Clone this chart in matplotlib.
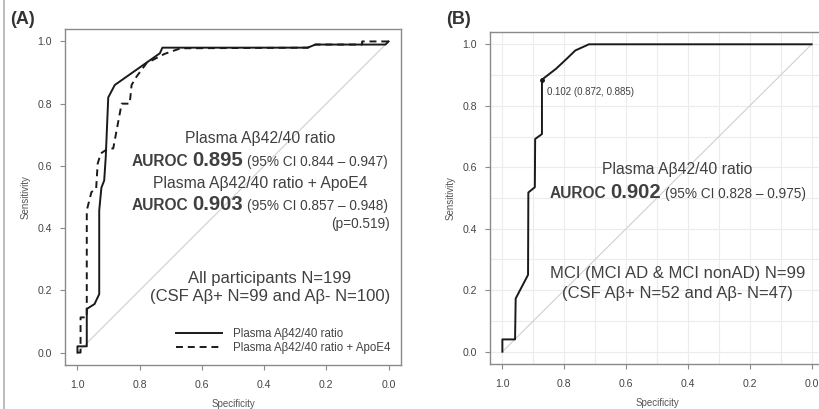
import matplotlib
matplotlib.use("Agg")
import matplotlib.pyplot as plt
import matplotlib.transforms as mtransforms
from matplotlib.lines import Line2D

plt.rcParams['font.family'] = ['Liberation Sans', 'DejaVu Sans']
plt.rcParams['lines.scale_dashes'] = False

# ---------------- data ----------------
specA_solid = [1.0, 1.0, 0.97, 0.97, 0.945, 0.93, 0.93, 0.923, 0.914, 0.909, 0.901, 0.88, 0.735, 0.727, 0.26, 0.235, 0.01, 0.0]
sensA_solid = [0.0, 0.02, 0.02, 0.14, 0.156, 0.188, 0.457, 0.53, 0.553, 0.629, 0.82, 0.86, 0.962, 0.98, 0.98, 0.99, 0.99, 1.0]

specA_dash = [1.0, 0.99, 0.99, 0.97, 0.97, 0.955, 0.94, 0.935, 0.925, 0.91, 0.90, 0.885, 0.858, 0.832, 0.826,
              0.81, 0.778, 0.72, 0.668, 0.26, 0.235, 0.085, 0.085, 0.0]
sensA_dash = [0.0, 0.0, 0.113, 0.113, 0.457, 0.516, 0.525, 0.607, 0.64, 0.65, 0.656, 0.656, 0.80, 0.80, 0.86,
              0.887, 0.93, 0.96, 0.978, 0.98, 0.99, 0.99, 1.0, 1.0]

specB = [1.0, 1.0, 0.959, 0.957, 0.917, 0.916, 0.895, 0.894, 0.872, 0.872, 0.827, 0.795, 0.764, 0.72, 0.0]
sensB = [0.0, 0.04, 0.04, 0.173, 0.25, 0.518, 0.535, 0.692, 0.708, 0.885, 0.92, 0.95, 0.98, 1.0, 1.0]

best_point = (0.872, 0.885)
best_label = "0.102 (0.872, 0.885)"

ticks = [1.0, 0.8, 0.6, 0.4, 0.2, 0.0]
tick_labels = ["1.0", "0.8", "0.6", "0.4", "0.2", "0.0"]

legend_labels = ["Plasma Aβ42/40 ratio", "Plasma Aβ42/40 ratio + ApoE4"]

# ---------------- figure ----------------
W, H = 819, 409
DPI = 100
fig = plt.figure(figsize=(W / DPI, H / DPI), dpi=DPI)
fig.patch.set_facecolor('white')

TXT = '#404040'
FRAME = '#8a8a8a'


def px_axes(l, r, t, b):
    return fig.add_axes([l / W, 1 - b / H, (r - l) / W, (b - t) / H])


def style_axes(ax):
    ax.set_xlim(1.04, -0.04)
    ax.set_ylim(-0.04, 1.04)
    ax.set_xticks(ticks)
    ax.set_xticklabels(tick_labels)
    ax.set_yticks(ticks)
    ax.set_yticklabels(tick_labels)
    for s in ax.spines.values():
        s.set_color(FRAME)
        s.set_linewidth(1.0)
    ax.tick_params(axis='both', length=3.6, width=0.8, color=FRAME, labelcolor='#454545',
                   labelsize=7.6, pad=6)
    ax.tick_params(axis='x', pad=7)
    ax.set_xlabel("Specificity", fontsize=7, color='#555555', labelpad=7)
    ax.set_ylabel("Sensitivity", fontsize=7, color='#555555', labelpad=5)
    ax.plot([1, 0], [0, 1], color='#cfcfcf', lw=0.8, zorder=1)


renderer = fig.canvas.get_renderer()


def rich_line(ax, x, y, parts, ha='center', gap=4):
    """parts: list of (text, fontsize, weight). Placed on a common baseline."""
    objs = []
    widths = []
    for s, fs, wt in parts:
        t = ax.text(x, y, s, fontsize=fs, fontweight=wt, color=TXT, ha='left', va='baseline')
        bb = t.get_window_extent(renderer=renderer)
        objs.append(t)
        widths.append(bb.width)
    total = sum(widths) + gap * (len(parts) - 1)
    if ha == 'center':
        start = -total / 2
    elif ha == 'right':
        start = -total
    else:
        start = 0
    off = start
    for t, w in zip(objs, widths):
        t.set_transform(mtransforms.offset_copy(ax.transData, fig=fig, x=off, y=0, units='dots'))
        off += w + gap


# ---------------- Panel A ----------------
axA = px_axes(65, 401, 29, 365)
style_axes(axA)
axA.plot(specA_solid, sensA_solid, color='#1a1a1a', lw=1.4, label=legend_labels[0], zorder=3)
axA.plot(specA_dash, sensA_dash, color='#1a1a1a', lw=1.4, dashes=(5, 3.5), label=legend_labels[1], zorder=3)

axA.text(0.413, 0.675, "Plasma Aβ42/40 ratio", fontsize=11.3, color=TXT, ha='center', va='baseline')
rich_line(axA, 0.413, 0.600, [("AUROC", 11.2, 'bold'), ("0.895", 14.6, 'bold'),
                               ("(95% CI 0.844 – 0.947)", 9.8, 'normal')])
axA.text(0.413, 0.530, "Plasma Aβ42/40 ratio + ApoE4", fontsize=11.3, color=TXT, ha='center', va='baseline')
rich_line(axA, 0.413, 0.457, [("AUROC", 11.2, 'bold'), ("0.903", 14.6, 'bold'),
                               ("(95% CI 0.857 – 0.948)", 9.8, 'normal')])
axA.text(-0.005, 0.400, "(p=0.519)", fontsize=9.8, color=TXT, ha='right', va='baseline')

axA.text(0.381, 0.224, "All participants N=199", fontsize=12, color=TXT, ha='center', va='baseline')
axA.text(0.381, 0.165, "(CSF Aβ+ N=99 and Aβ- N=100)", fontsize=12, color=TXT, ha='center', va='baseline')

leg = axA.legend(loc='lower right', bbox_to_anchor=(1.0, 0.0), frameon=False, fontsize=8.3,
                 handlelength=4.0, handletextpad=0.9, labelspacing=0.15, borderaxespad=0.55,
                 labelcolor='#444444')

# ---------------- Panel B ----------------
axB = px_axes(490, 824, 32, 364)
style_axes(axB)
axB.set_xticks([i / 10 for i in range(11)], minor=True)
axB.set_yticks([i / 10 for i in range(11)], minor=True)
axB.tick_params(which='minor', length=0)
axB.grid(True, which='both', color='#ececec', lw=0.8, zorder=0)
axB.set_axisbelow(True)
axB.plot(specB, sensB, color='#1a1a1a', lw=1.4, zorder=3)
axB.plot([best_point[0]], [best_point[1]], 'o', color='#1a1a1a', ms=2.5, zorder=4)
axB.text(best_point[0] - 0.015, best_point[1] - 0.04, best_label, fontsize=7, color=TXT,
         ha='left', va='center')

axB.text(0.434, 0.577, "Plasma Aβ42/40 ratio", fontsize=11.3, color=TXT, ha='center', va='baseline')
rich_line(axB, 0.434, 0.500, [("AUROC", 11.2, 'bold'), ("0.902", 14.6, 'bold'),
                               ("(95% CI 0.828 – 0.975)", 9.8, 'normal')])
axB.text(0.434, 0.240, "MCI (MCI AD & MCI nonAD) N=99", fontsize=12, color=TXT, ha='center', va='baseline')
axB.text(0.434, 0.176, "(CSF Aβ+ N=52 and Aβ- N=47)", fontsize=12, color=TXT, ha='center', va='baseline')

# panel letters
fig.text(10 / W, 1 - 20 / H, "(A)", fontsize=13, fontweight='bold', color='#333333', ha='left', va='center')
fig.text(446 / W, 1 - 20 / H, "(B)", fontsize=13, fontweight='bold', color='#333333', ha='left', va='center')

# outer left border
fig.add_artist(Line2D([4 / W, 4 / W], [0, 1], transform=fig.transFigure, color='#b0b0b0', lw=1.2))

fig.savefig("out.png", dpi=DPI, facecolor='white')
